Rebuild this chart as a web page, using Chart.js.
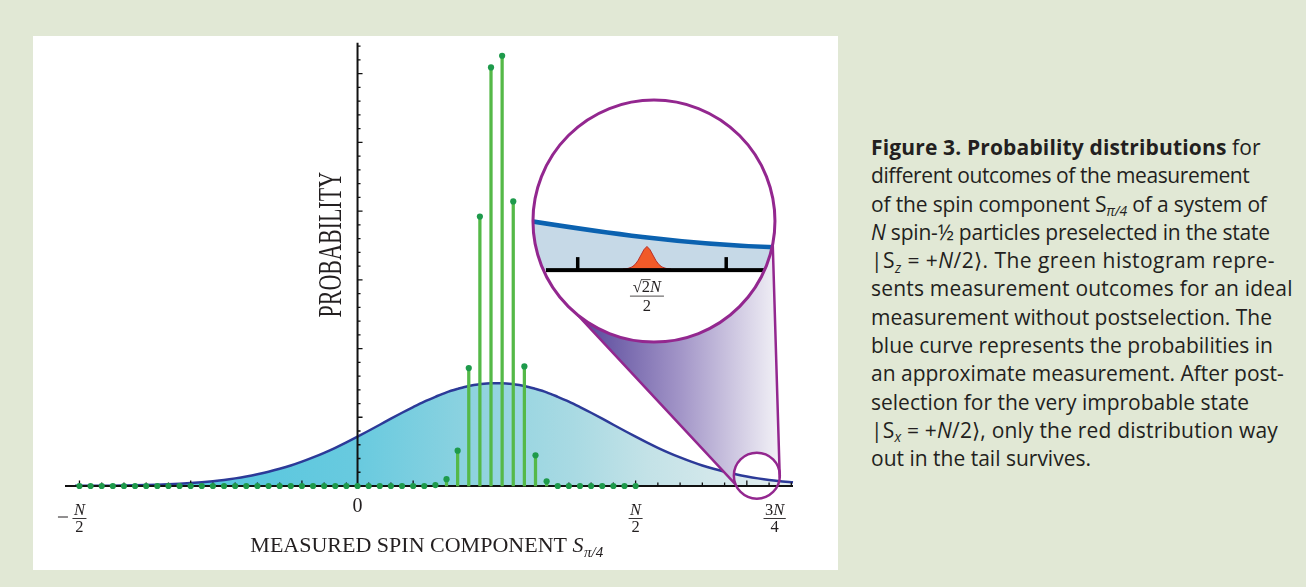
<!DOCTYPE html>
<html>
<head>
<meta charset="utf-8">
<script src="https://cdn.jsdelivr.net/npm/chart.js@4.4.1/dist/chart.umd.min.js"></script>
<style>
  html, body { margin: 0; padding: 0; background: #e1e8d5; }
  body { width: 1306px; height: 587px; position: relative; overflow: hidden; }
  #panel { position: absolute; left: 33px; top: 36px; width: 805px; height: 534px; background: #fff; }
  #caption {
    position: absolute; left: 871px; top: 133px;
    font-family: "Open Sans", "Noto Sans", sans-serif; font-size: 21px; line-height: 28.3px;
    color: #231f20; white-space: nowrap;
  }
  #caption b { font-weight: 700; }
  .sub { font-size: 0.66em; position: relative; top: 0.32em; line-height: 0; font-style: italic; }
</style>
</head>
<body>
<div id="panel"><canvas id="spinChart"></canvas></div>
<div id="caption">
  <div style="letter-spacing:0.15px"><b>Figure 3. Probability distributions</b> for</div>
  <div style="letter-spacing:-0.4px">different outcomes of the measurement</div>
  <div style="letter-spacing:-0.15px">of the spin component S<span class="sub">π/4</span> of a system of</div>
  <div style="letter-spacing:-0.2px"><i>N</i> spin-½ particles preselected in the state</div>
  <div style="letter-spacing:0.45px">|S<span class="sub">z</span> = +<i>N</i>/2⟩. The green histogram repre-</div>
  <div style="letter-spacing:0.2px">sents measurement outcomes for an ideal</div>
  <div>measurement without postselection. The</div>
  <div>blue curve represents the probabilities in</div>
  <div>an approximate measurement. After post-</div>
  <div>selection for the very improbable state</div>
  <div style="letter-spacing:0.2px">|S<span class="sub">x</span> = +<i>N</i>/2⟩, only the red distribution way</div>
  <div>out in the tail survives.</div>
</div>
<script>
// measured spin component, in steps of 1 (N/2 = 25)
const spinValues = [-25,-24,-23,-22,-21,-20,-19,-18,-17,-16,-15,-14,-13,-12,-11,-10,-9,-8,-7,-6,-5,-4,-3,-2,-1,
  0,1,2,3,4,5,6,7,8,9,10,11,12,13,14,15,16,17,18,19,20,21,22,23,24,25];
const idealProbability = [0,0,0,0,0,0,0,0,0,0,0,0,0,0,0,0,0,0,0,0,0,0,0,0,0,
  0,0,0,0,0,0,0,0.07,0.5,2.57,8.58,19.6,30.45,31.3,20.7,8.7,2.23,0.34,0,0,0,0,0,0,0,0];

// approximate measurement (blue curve)
const curveSpin = [-25.4,-25,-24,-23,-22,-21,-20,-19,-18,-17,-16,-15,-14,-13,-12,-11,-10,-9,-8,-7,-6,-5,-4,-3,-2,-1,
  0,1,2,3,4,5,6,7,8,9,10,11,12,13,14,15,16,17,18,19,20,21,22,23,24,25,26,27,28,29,30,31,32,33,34,35,36,37,38,39,39.15];
const curveProbability = [0.01,0.01,0.014,0.02,0.027,0.038,0.051,0.07,0.094,0.124,0.163,0.213,0.274,0.35,0.44,0.555,0.69,0.85,1.035,1.25,1.49,1.77,2.08,2.415,2.78,3.175,
  3.59,4.02,4.455,4.9,5.33,5.745,6.14,6.49,6.815,7.065,7.28,7.41,7.48,7.48,7.41,7.28,7.065,6.815,6.49,6.14,5.745,5.33,4.9,4.455,4.02,3.59,3.175,2.78,2.415,2.08,1.77,1.49,1.25,1.035,0.85,0.69,0.555,0.44,0.35,0.274,0.26];

// axis ticks
const xMajorTicks = [-25,-15,-5,5,15,25,35];
const xMinorTicks = [-23,-21,-19,-17,-13,-11,-9,-7,-3,-1,1,3,7,9,11,13,17,19,21,23,27,29,31,33,37,39];
const yMajorTicks = [5,10,15,20,25,30];
const yMinorTicks = [1,2,3,4,6,7,8,9,11,12,13,14,16,17,18,19,21,22,23,24,26,27,28,29,31,32];
const xLabelValues = [-25, 0, 25, 37.5];
const xLabelNumerators = ['N', '0', 'N', '3N'];
const xLabelDenominators = ['2', '', '2', '4'];
const xLabelSigns = ['−', '', '', ''];

// magnified tail: lens centre and tail spot, in data units
const lensCenter = [26.65, 19.27];
const tailSpot = [35.9, 0.75];
// red post-selected distribution inside the lens (heights, 3px steps)
const postselected = [0,0.3,1,2.2,4.5,8.5,14,19.5,22.7,19.5,14,8.5,4.5,2.2,1,0.3,0];

const SERIF = '"Liberation Serif", "DejaVu Serif", serif';
const INK = '#231f20';

function drawMixed(ctx, text, cx, base, size) {
  // digits upright, N italic, centred on cx
  const parts = text.split('').map(ch => ({ ch, font: (ch === 'N' ? 'italic ' : '') + size + 'px ' + SERIF }));
  let total = 0;
  parts.forEach(p => { ctx.font = p.font; p.w = ctx.measureText(p.ch).width; total += p.w; });
  let px = cx - total / 2;
  ctx.textAlign = 'left';
  parts.forEach(p => { ctx.font = p.font; ctx.fillText(p.ch, px, base); px += p.w; });
  return total;
}

function drawAxes(chart) {
  const { ctx, scales: { x, y } } = chart;
  const y0 = y.getPixelForValue(0), x0 = x.getPixelForValue(0);
  ctx.save();
  ctx.strokeStyle = '#111';
  ctx.lineWidth = 2;
  ctx.beginPath();
  ctx.moveTo(x.left, y0); ctx.lineTo(x.right, y0);
  ctx.moveTo(x0, y0); ctx.lineTo(x0, y.top);
  ctx.stroke();
  ctx.lineWidth = 1.3;
  ctx.beginPath();
  xMajorTicks.forEach(v => { const p = x.getPixelForValue(v); ctx.moveTo(p, y0); ctx.lineTo(p, y0 - 5.5); });
  xMinorTicks.forEach(v => { const p = x.getPixelForValue(v); ctx.moveTo(p, y0); ctx.lineTo(p, y0 - 3.5); });
  yMajorTicks.forEach(v => { const p = y.getPixelForValue(v); ctx.moveTo(x0, p); ctx.lineTo(x0 + 5, p); });
  yMinorTicks.forEach(v => { const p = y.getPixelForValue(v); ctx.moveTo(x0, p); ctx.lineTo(x0 + 3, p); });
  ctx.stroke();
  ctx.restore();
}

function drawLabels(chart) {
  const { ctx, chartArea, scales: { x, y } } = chart;
  const y0 = y.getPixelForValue(0), x0 = x.getPixelForValue(0);
  ctx.save();
  ctx.fillStyle = INK;
  ctx.strokeStyle = INK;
  ctx.textBaseline = 'alphabetic';
  xLabelValues.forEach((v, i) => {
    const cx = x.getPixelForValue(v);
    if (!xLabelDenominators[i]) {
      ctx.font = '20px ' + SERIF; ctx.textAlign = 'center';
      ctx.fillText(xLabelNumerators[i], cx, y0 + 25.7);
      return;
    }
    const w = drawMixed(ctx, xLabelNumerators[i], cx, y0 + 28.5, 16.5);
    drawMixed(ctx, xLabelDenominators[i], cx, y0 + 46, 16.5);
    ctx.lineWidth = 0.9;
    ctx.beginPath(); ctx.moveTo(cx - w / 2 - 1.5, y0 + 32.5); ctx.lineTo(cx + w / 2 + 1.5, y0 + 32.5); ctx.stroke();
    if (xLabelSigns[i]) {
      ctx.lineWidth = 1;
      ctx.beginPath(); ctx.moveTo(cx - 21.5, y0 + 31); ctx.lineTo(cx - 11.5, y0 + 31); ctx.stroke();
    }
  });

  // x title
  const main = 'MEASURED SPIN COMPONENT ';
  ctx.font = '22px ' + SERIF; const wMain = ctx.measureText(main).width;
  ctx.font = 'italic 22px ' + SERIF; const wS = ctx.measureText('S').width;
  ctx.font = 'italic 15px ' + SERIF; const wSub = ctx.measureText('π/4').width;
  let tx = (chartArea.left + chartArea.right) / 2 - 2.5 - (wMain + wS + wSub) / 2;
  const tb = y0 + 66;
  ctx.textAlign = 'left';
  ctx.font = '22px ' + SERIF; ctx.fillText(main, tx, tb); tx += wMain;
  ctx.font = 'italic 22px ' + SERIF; ctx.fillText('S', tx, tb); tx += wS;
  ctx.font = 'italic 15px ' + SERIF; ctx.fillText('π/4', tx + 0.5, tb + 5);

  // y title (tall, narrow lettering)
  ctx.save();
  ctx.translate(x0 - 25.5, chartArea.top + 202);
  ctx.rotate(-Math.PI / 2);
  ctx.scale(1, 1.55);
  ctx.font = '22px ' + SERIF; ctx.textAlign = 'center'; ctx.textBaseline = 'middle';
  ctx.fillText('PROBABILITY', 0, 0);
  ctx.restore();
  ctx.restore();
}

function drawInset(chart) {
  const { ctx, scales: { x, y } } = chart;
  const cx = x.getPixelForValue(lensCenter[0]), cy = y.getPixelForValue(lensCenter[1]);
  const sx = x.getPixelForValue(tailSpot[0]), sy = y.getPixelForValue(tailSpot[1]);
  const R = 121, r = 23, rad = d => d * Math.PI / 180;
  const pt = (ox, oy, rr, d) => [ox + rr * Math.cos(rad(d)), oy + rr * Math.sin(rad(d))];
  const p1 = pt(cx, cy, R, 129), p2 = pt(cx, cy, R, 11);
  const p3 = pt(sx, sy, r, 5), p4 = pt(sx, sy, r, 158);
  const purple = '#93278f';
  ctx.save();
  // cone
  const g = ctx.createLinearGradient(p1[0] + 5, 0, p3[0], 0);
  g.addColorStop(0, '#58489b');
  g.addColorStop(0.5, '#a396c8');
  g.addColorStop(1, '#f3f2f7');
  ctx.beginPath();
  ctx.moveTo(p1[0], p1[1]); ctx.lineTo(p4[0], p4[1]);
  ctx.arc(sx, sy, r, rad(158), rad(365), false);
  ctx.lineTo(p2[0], p2[1]); ctx.closePath();
  ctx.fillStyle = g; ctx.fill();
  ctx.strokeStyle = purple; ctx.lineWidth = 2.5;
  ctx.beginPath();
  ctx.moveTo(p1[0], p1[1]); ctx.lineTo(p4[0], p4[1]);
  ctx.moveTo(p2[0], p2[1]); ctx.lineTo(p3[0], p3[1]);
  ctx.stroke();
  ctx.beginPath(); ctx.arc(sx, sy, r, 0, 2 * Math.PI); ctx.stroke();

  // lens
  ctx.beginPath(); ctx.arc(cx, cy, R, 0, 2 * Math.PI);
  ctx.fillStyle = '#fff'; ctx.fill();
  ctx.save();
  ctx.clip();
  ctx.translate(cx, cy);
  const curve = () => { ctx.moveTo(-130, -1); ctx.bezierCurveTo(-60, 10, 30, 24, 130, 26.5); };
  ctx.beginPath(); curve(); ctx.lineTo(130, 49); ctx.lineTo(-130, 49); ctx.closePath();
  ctx.fillStyle = '#c6d9e7'; ctx.fill();
  ctx.beginPath(); curve(); ctx.strokeStyle = '#0b62b0'; ctx.lineWidth = 4.5; ctx.stroke();
  // red distribution
  ctx.beginPath();
  postselected.forEach((h, i) => {
    const px = -7 - 24 + 3 * i, py = 48 - h;
    if (i === 0) ctx.moveTo(px, py); else ctx.lineTo(px, py);
  });
  ctx.closePath();
  ctx.fillStyle = '#f15a29'; ctx.fill();
  ctx.strokeStyle = '#b8322c'; ctx.lineWidth = 1; ctx.stroke();
  // magnified axis
  ctx.fillStyle = '#000';
  ctx.fillRect(-108, 47, 218, 4);
  ctx.fillRect(-78, 36, 3.5, 12);
  ctx.fillRect(70.5, 36, 3.5, 12);
  // sqrt(2)N / 2
  ctx.fillStyle = INK; ctx.strokeStyle = INK;
  ctx.font = '16.5px ' + SERIF;
  const wRoot = ctx.measureText('√').width, w2 = ctx.measureText('2').width;
  ctx.font = 'italic 16.5px ' + SERIF; const wN = ctx.measureText('N').width;
  let lx = -7 - (wRoot + w2 + wN) / 2;
  ctx.textAlign = 'left'; ctx.textBaseline = 'alphabetic';
  ctx.font = '16.5px ' + SERIF;
  ctx.fillText('√', lx, 71); ctx.fillText('2', lx + wRoot, 71);
  ctx.lineWidth = 0.8;
  ctx.beginPath(); ctx.moveTo(lx + wRoot - 0.5, 58.5); ctx.lineTo(lx + wRoot + w2 + 0.5, 58.5); ctx.stroke();
  ctx.font = 'italic 16.5px ' + SERIF; ctx.fillText('N', lx + wRoot + w2, 71);
  ctx.beginPath(); ctx.moveTo(-7 - 17, 75); ctx.lineTo(-7 + 17, 75); ctx.stroke();
  ctx.font = '16.5px ' + SERIF; ctx.textAlign = 'center'; ctx.fillText('2', -7, 90);
  ctx.restore();
  ctx.beginPath(); ctx.arc(cx, cy, R, 0, 2 * Math.PI);
  ctx.strokeStyle = purple; ctx.lineWidth = 3; ctx.stroke();
  ctx.restore();
}

const figurePlugin = {
  id: 'figure',
  afterDatasetDraw(chart, args) { if (args.index === 0) drawAxes(chart); },
  afterDatasetsDraw(chart) { drawInset(chart); },
  afterDraw(chart) { drawLabels(chart); }
};

const ctx = document.getElementById('spinChart').getContext('2d');
new Chart(ctx, {
  type: 'line',
  data: {
    datasets: [
      {
        label: 'approximate',
        data: curveSpin.map((s, i) => ({ x: s, y: curveProbability[i] })),
        borderColor: '#2c3a98',
        borderWidth: 2.5,
        pointRadius: 0,
        tension: 0.4,
        cubicInterpolationMode: 'monotone',
        fill: 'origin',
        backgroundColor: (c) => {
          const a = c.chart.chartArea;
          if (!a) return '#7fcfe0';
          const g = c.chart.ctx.createLinearGradient(a.left, 0, a.right, 0);
          g.addColorStop(0, '#45c3de');
          g.addColorStop(0.4, '#68cadf');
          g.addColorStop(0.57, '#90d3e0');
          g.addColorStop(0.7, '#a9dae3');
          g.addColorStop(0.8, '#c3e2e7');
          g.addColorStop(0.9, '#d4e8eb');
          g.addColorStop(1, '#e4eff1');
          return g;
        },
        clip: false,
        order: 3
      },
      {
        type: 'bar',
        label: 'ideal stems',
        data: spinValues.map((s, i) => ({ x: s, y: idealProbability[i] })),
        backgroundColor: '#55b948',
        borderWidth: 0,
        barThickness: 2.6,
        grouped: false,
        clip: false,
        order: 2
      },
      {
        type: 'scatter',
        label: 'ideal',
        data: spinValues.map((s, i) => ({ x: s, y: idealProbability[i] })),
        backgroundColor: '#1e9a4b',
        borderWidth: 0,
        pointRadius: 3.1,
        showLine: false,
        clip: false,
        order: 1
      }
    ]
  },
  options: {
    responsive: true,
    maintainAspectRatio: false,
    devicePixelRatio: 1,
    animation: false,
    layout: { padding: { left: 32, right: 45, top: 6.7, bottom: 84 } },
    plugins: { legend: { display: false }, tooltip: { enabled: false } },
    scales: {
      x: { type: 'linear', min: -26.3, max: 39.15, bounds: 'data', offset: false, display: false },
      y: { type: 'linear', min: 0, max: 32.25, bounds: 'data', display: false }
    }
  },
  plugins: [figurePlugin]
});
</script>
</body>
</html>
